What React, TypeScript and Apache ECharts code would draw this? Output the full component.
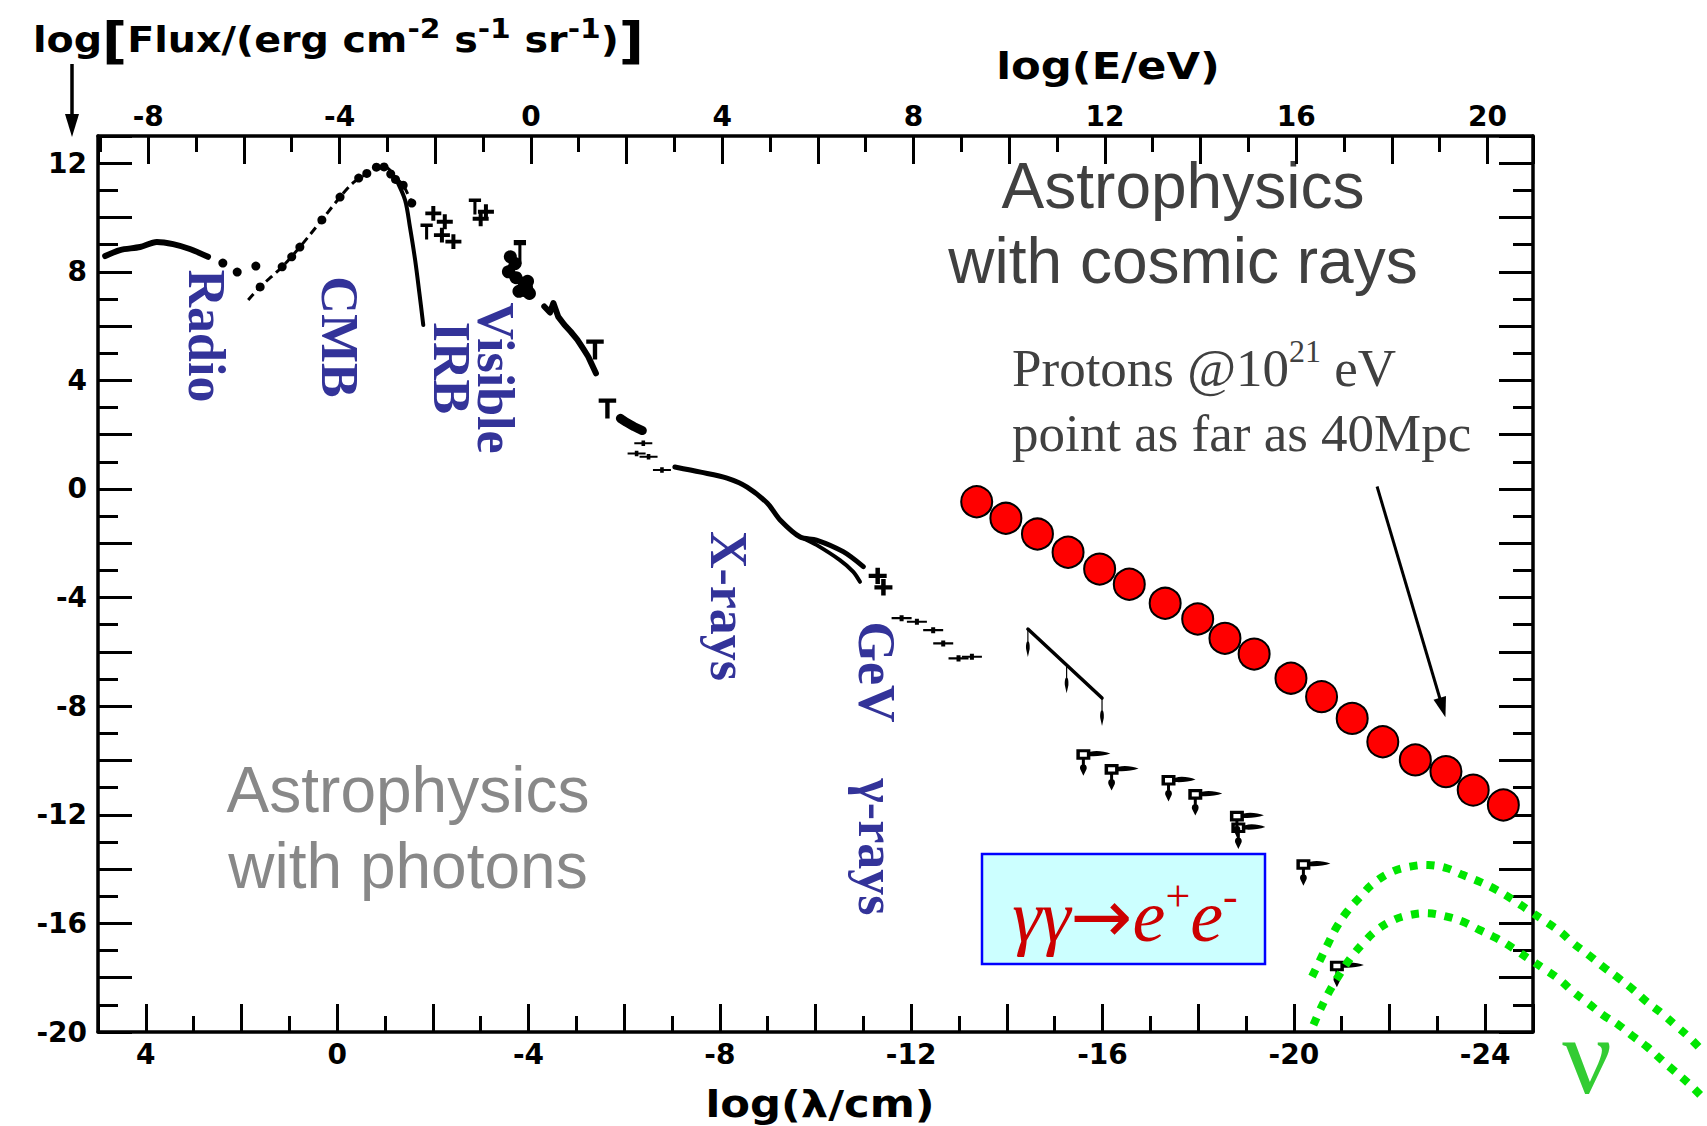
import React, { useEffect, useRef } from 'react';
import * as echarts from 'echarts';

// ---------- axis ranges ----------
const LAMBDA_MIN = -25; // log(lambda/cm), right edge
const LAMBDA_MAX = 5; // left edge
const ENERGY_MIN = -9.05; // log(E/eV), left edge
const ENERGY_MAX = 20.95;
const FLUX_MIN = -20;
const FLUX_MAX = 13;

// ---------- data: [log(lambda/cm), log flux] ----------
const radioCurve = [[4.85, 8.58], [4.54, 8.8], [4.12, 8.91], [3.77, 9.1], [3.43, 9.02], [3.08, 8.84], [2.7, 8.55]];
const radioDots = [[2.39, 8.32], [2.09, 7.99], [1.7, 8.21]];
const cmbRise = [[1.86, 6.96], [1.61, 7.44], [1.15, 8.18], [0.78, 8.91], [0.32, 9.91], [-0.06, 10.75], [-0.33, 11.27], [-0.62, 11.6], [-0.9, 11.82], [-1.04, 11.82], [-1.21, 11.49], [-1.38, 11.19], [-1.56, 10.53]];
const cmbDots = [[1.61, 7.44], [1.15, 8.18], [0.95, 8.55], [0.78, 8.91], [0.32, 9.91], [-0.06, 10.75], [-0.45, 11.45], [-0.62, 11.62], [-0.82, 11.85], [-0.98, 11.86], [-1.12, 11.6], [-1.22, 11.4], [-1.38, 11.19], [-1.56, 10.53]];
const cmbWien = [[-1.21, 11.49], [-1.42, 10.64], [-1.52, 9.66], [-1.63, 8.43], [-1.72, 7.2], [-1.8, 6.04]];
const irbCrosses = [[-2.01, 10.15], [-2.25, 9.84], [-2.19, 9.35], [-2.43, 9.11], [-3.0, 9.95], [-3.11, 10.21]];
const irbLimits = [[-1.87, 9.72], [-2.88, 10.64]];
const visibleBlob = [[-3.62, 8.55], [-3.72, 8.3], [-3.58, 8.0], [-3.74, 7.78], [-3.92, 7.55], [-3.8, 7.28], [-4.02, 7.2], [-3.98, 7.65]];
const visibleLimit = [[-3.82, 9.11]];
const uvStrip = [[-4.33, 6.72], [-4.45, 6.5], [-4.52, 6.85], [-4.62, 6.35], [-4.75, 6.05], [-4.88, 5.8], [-5.02, 5.5], [-5.15, 5.15], [-5.25, 4.87], [-5.32, 4.6], [-5.41, 4.26]];
const uvLimits = [[-5.39, 5.45], [-5.65, 3.28]];
const uvBlob = [[-5.92, 2.6], [-6.05, 2.45], [-6.2, 2.3], [-6.38, 2.15]];
const uvCrosses = [[-6.4, 1.68], [-6.26, 1.31], [-6.51, 1.19], [-6.79, 0.7]];
const xrayUpper = [[-7.06, 0.81], [-7.6, 0.62], [-8.15, 0.4], [-8.57, 0.07], [-8.99, -0.52], [-9.26, -1.14], [-9.68, -1.77], [-10.02, -1.88], [-10.58, -2.31], [-11.0, -2.86]];
const xrayLower = [[-9.75, -1.82], [-10.02, -2.06], [-10.51, -2.62], [-10.79, -3.05], [-10.93, -3.42]];
const gevBlob = [[-11.3, -3.2], [-11.42, -3.62]];
const gevCrosses = [[-11.8, -4.76], [-12.12, -4.89], [-12.46, -5.2], [-12.67, -5.69], [-12.99, -6.24], [-13.27, -6.18]];
const tevLine = [[-14.44, -5.16], [-15.99, -7.7]];
const tevArrows = [[-14.44, -5.16], [-15.25, -6.49], [-15.99, -7.7]];
const limitSquares = [[-15.6, -9.74], [-16.19, -10.29], [-17.38, -10.69], [-17.94, -11.21], [-18.81, -12.01], [-18.84, -12.44], [-20.2, -13.79], [-20.9, -17.53]];
const protons = [[-13.37, -0.47], [-13.98, -1.08], [-14.64, -1.66], [-15.28, -2.33], [-15.94, -2.95], [-16.56, -3.51], [-17.31, -4.21], [-17.99, -4.79], [-18.56, -5.5], [-19.17, -6.08], [-19.94, -6.97], [-20.58, -7.65], [-21.22, -8.45], [-21.86, -9.31], [-22.54, -9.98], [-23.18, -10.41], [-23.75, -11.09], [-24.38, -11.64]];
const protonArrow = [[-21.74, 0.09], [-23.11, -8.05]];
const neutrinoOuter = [[-20.38, -17.96], [-20.55, -17.35], [-20.72, -16.73], [-20.9, -16.12], [-21.11, -15.57], [-21.39, -15.02], [-21.66, -14.53], [-22.05, -14.1], [-22.43, -13.91], [-22.81, -13.85], [-23.2, -13.97], [-23.54, -14.22], [-23.89, -14.47], [-24.24, -14.77], [-24.59, -15.14], [-24.9, -15.51], [-25.22, -15.88], [-25.57, -16.31], [-25.84, -16.73], [-26.16, -17.16], [-26.47, -17.6], [-26.79, -18.02], [-27.1, -18.45], [-27.38, -18.89], [-27.69, -19.31], [-27.97, -19.74], [-28.25, -20.17], [-28.53, -20.67]];
const neutrinoInner = [[-20.41, -19.74], [-20.58, -19.07], [-20.76, -18.45], [-20.97, -17.84], [-21.18, -17.29], [-21.45, -16.73], [-21.73, -16.25], [-22.08, -15.88], [-22.43, -15.69], [-22.81, -15.63], [-23.2, -15.75], [-23.54, -15.94], [-23.89, -16.25], [-24.24, -16.55], [-24.59, -16.92], [-24.9, -17.29], [-25.22, -17.66], [-25.57, -18.09], [-25.84, -18.52], [-26.16, -18.95], [-26.47, -19.38], [-26.79, -19.74], [-27.1, -20.17], [-27.38, -20.54], [-27.69, -21.03], [-27.97, -21.46], [-28.25, -21.89], [-28.53, -22.38]];
const neutrinoCurves = [neutrinoOuter, neutrinoInner];

// ---------- text ----------
const categoryLabels = ['Radio', 'CMB', 'IRB', 'Visible', 'X-rays', 'GeV', 'γ-rays'];

// ---------- symbols ----------
const CROSS = 'path://M0,5 H14 V8.5 H0 Z M5.25,0 H8.75 V13.5 H5.25 Z';
const HBAR = 'path://M0,3.5 H20 V7.5 H0 Z M8,0 H12 V11 H8 Z';
const TLIMIT = 'path://M0,0 H14 V3.5 H0 Z M5.25,0 H8.75 V16 H5.25 Z';
const DOWN = 'path://M4,0 H7 V16 H4 Z M5.5,12 C9,12 11,16 10,20 L5.5,28 L1,20 C0,16 2,12 5.5,12 Z';
const SQUARE_LIMIT = 'path://M0,0 H14 V12 H0 Z M3.5,3.5 V8.5 H10.5 V3.5 Z M5.5,12 H8.5 V19 H5.5 Z M7,17 C10,17 11,20.5 10,23 L7,30 L4,23 C3,20.5 4,17 7,17 Z M14,3 C20,1 28,2.5 34,5 C28,7.5 20,8.5 14,8 Z';

const BLACK = '#000';
const TICK_FONT = { fontFamily: 'DejaVu Sans', fontWeight: 'bold' as const, fontSize: 28, color: BLACK };
const lab4 = (v: number) => (Math.abs(v % 4) < 1e-9 ? String(Math.round(v)) : '');

function lineSeries(data: number[][], width: number, extra: any = {}) {
  return {
    type: 'line', data, symbol: 'none', smooth: 0.3, silent: true, z: 3,
    lineStyle: { color: BLACK, width, cap: 'round', join: 'round', ...extra },
  };
}
function scatterSeries(data: number[][], symbol: string, size: any, offset: number[] = [0, 0]) {
  return {
    type: 'scatter', data, symbol, symbolSize: size, symbolOffset: offset, symbolKeepAspect: true,
    silent: true, z: 4, itemStyle: { color: BLACK, opacity: 1 },
  };
}

function xAxisBase(extra: any) {
  return {
    type: 'value', splitNumber: 15,
    axisLine: { show: true, onZero: false, lineStyle: { color: BLACK, width: 3.5 } },
    axisTick: { show: true, inside: true, length: 28, lineStyle: { color: BLACK, width: 3 } },
    minorTick: { show: true, splitNumber: 2, length: 16, lineStyle: { color: BLACK, width: 3 } },
    splitLine: { show: false }, minorSplitLine: { show: false },
    ...extra,
  };
}
function yAxisBase(extra: any) {
  return {
    type: 'value', min: FLUX_MIN, max: FLUX_MAX, interval: 2,
    axisLine: { show: true, onZero: false, lineStyle: { color: BLACK, width: 3.5 } },
    axisTick: { show: true, inside: true, length: 34, lineStyle: { color: BLACK, width: 3 } },
    minorTick: { show: true, splitNumber: 2, length: 20, lineStyle: { color: BLACK, width: 3 } },
    splitLine: { show: false }, minorSplitLine: { show: false },
    ...extra,
  };
}

function catLabel(text: string, x: number, y: number) {
  return {
    type: 'text', x, y, rotation: -Math.PI / 2,
    style: {
      text, fill: '#333399', fontFamily: 'Liberation Serif', fontWeight: 'bold', fontSize: 52,
      align: 'center', verticalAlign: 'middle', textAlign: 'center', textVerticalAlign: 'middle',
    },
  };
}

function buildOption() {
  const graphic: any[] = [
    {
      type: 'text', x: 33, y: 40, scaleX: 1.1,
      style: {
        text: '{t|log}{b|[}{t|Flux/(erg cm}{s|-2}{t| s}{s|-1}{t| sr}{s|-1}{t|)}{b|]}',
        align: 'left', verticalAlign: 'middle', textAlign: 'left', textVerticalAlign: 'middle', fill: BLACK,
        rich: {
          t: { fontFamily: 'DejaVu Sans', fontWeight: 'bold', fontSize: 36, fill: BLACK, lineHeight: 50 },
          b: { fontFamily: 'DejaVu Sans', fontWeight: 'bold', fontSize: 50, fill: BLACK, lineHeight: 50 },
          s: { fontFamily: 'DejaVu Sans', fontWeight: 'bold', fontSize: 27, fill: BLACK, lineHeight: 26, verticalAlign: 'top' },
        },
      },
    },
    { type: 'line', shape: { x1: 72, y1: 64, x2: 72, y2: 120 }, style: { stroke: BLACK, lineWidth: 3.5 } },
    { type: 'polygon', shape: { points: [[65, 114], [79, 114], [72, 137]] }, style: { fill: BLACK } },
    {
      type: 'text', x: 1108, y: 66, scaleX: 1.14,
      style: { text: 'log(E/eV)', fill: BLACK, fontFamily: 'DejaVu Sans', fontWeight: 'bold', fontSize: 38, align: 'center', verticalAlign: 'middle', textAlign: 'center', textVerticalAlign: 'middle' },
    },
    {
      type: 'text', x: 820, y: 1104, scaleX: 1.14,
      style: { text: 'log(λ/cm)', fill: BLACK, fontFamily: 'DejaVu Sans', fontWeight: 'bold', fontSize: 38, align: 'center', verticalAlign: 'middle', textAlign: 'center', textVerticalAlign: 'middle' },
    },
    catLabel(categoryLabels[0], 206, 336),
    catLabel(categoryLabels[1], 339, 337),
    catLabel(categoryLabels[2], 451, 368),
    catLabel(categoryLabels[3], 495, 378),
    catLabel(categoryLabels[4], 728, 606),
    catLabel(categoryLabels[5], 876, 672),
    catLabel(categoryLabels[6], 876, 847),
    {
      type: 'text', x: 1183, y: 148,
      style: { text: 'Astrophysics\nwith cosmic rays', fill: '#404040', fontFamily: 'Liberation Sans', fontSize: 64, lineHeight: 75, align: 'center', verticalAlign: 'top', textAlign: 'center', textVerticalAlign: 'top' },
    },
    {
      type: 'text', x: 408, y: 752,
      style: { text: 'Astrophysics\nwith photons', fill: '#888888', fontFamily: 'Liberation Sans', fontSize: 64, lineHeight: 76, align: 'center', verticalAlign: 'top', textAlign: 'center', textVerticalAlign: 'top' },
    },
    {
      type: 'text', x: 1012, y: 335,
      style: {
        text: '{p|Protons @10}{q|21}{p| eV}\n{p|point as far as 40Mpc}',
        align: 'left', verticalAlign: 'top', textAlign: 'left', textVerticalAlign: 'top', fill: '#404040',
        rich: {
          p: { fontFamily: 'Liberation Serif', fontSize: 53, lineHeight: 65, fill: '#404040' },
          q: { fontFamily: 'Liberation Serif', fontSize: 32, lineHeight: 50, fill: '#404040', verticalAlign: 'top' },
        },
      },
    },
    { type: 'rect', z: 5, shape: { x: 982, y: 854, width: 283, height: 110 }, style: { fill: '#ccffff', stroke: '#0000ff', lineWidth: 2.5 } },
    {
      type: 'text', x: 1125, y: 916, z: 6,
      style: {
        text: '{m|γγ}{a|→}{m|e}{s|+}{m|e}{s|-}',
        align: 'center', verticalAlign: 'middle', textAlign: 'center', textVerticalAlign: 'middle', fill: '#cc0000',
        rich: {
          m: { fontFamily: 'Liberation Serif', fontStyle: 'italic', fontSize: 74, lineHeight: 84, fill: '#cc0000' },
          a: { fontFamily: 'DejaVu Sans', fontWeight: 'normal', fontSize: 74, lineHeight: 84, fill: '#cc0000' },
          s: { fontFamily: 'Liberation Serif', fontSize: 44, lineHeight: 54, fill: '#cc0000', verticalAlign: 'top' },
        },
      },
    },
    {
      type: 'text', x: 1587, y: 1056,
      style: { text: 'ν', fill: '#33cc33', fontFamily: 'Liberation Serif', fontSize: 110, align: 'center', verticalAlign: 'middle', textAlign: 'center', textVerticalAlign: 'middle' },
    },
  ];

  const series: any[] = [
    lineSeries(radioCurve, 6),
    scatterSeries(radioDots, 'circle', 9),
    lineSeries(cmbRise, 3, { type: [8, 5], cap: 'butt' }),
    scatterSeries(cmbDots, 'circle', 9),
    lineSeries(cmbWien, 4),
    scatterSeries(irbCrosses, CROSS, [16, 15.5]),
    scatterSeries(irbLimits, TLIMIT, [14, 16], [0, 6.5]),
    { ...lineSeries(visibleBlob, 9), smooth: false },
    scatterSeries(visibleBlob, 'circle', 13),
    scatterSeries(visibleLimit, TLIMIT, [14, 24], [0, 10.5]),
    { ...lineSeries(uvStrip, 6), smooth: false },
    scatterSeries(uvLimits, TLIMIT, [20, 20], [0, 8.5]),
    { ...lineSeries(uvBlob, 9), smooth: false },
    scatterSeries(uvCrosses, HBAR, [18, 10]),
    lineSeries(xrayUpper, 5),
    lineSeries(xrayLower, 4),
    scatterSeries(gevBlob, CROSS, [18, 17]),
    scatterSeries(gevCrosses, HBAR, [20, 11]),
    { ...lineSeries(tevLine, 3.5), smooth: false },
    scatterSeries(tevArrows, DOWN, [11, 28], [0, 14]),
    scatterSeries(limitSquares, SQUARE_LIMIT, [34, 30], [10, 9]),
    {
      type: 'scatter', data: protons, symbol: 'circle', symbolSize: 31, silent: true, z: 5,
      itemStyle: { color: '#ff0000', borderColor: BLACK, borderWidth: 2, opacity: 1 },
      markLine: {
        silent: true, symbol: ['none', 'triangle'], symbolSize: [13, 20], animation: false,
        label: { show: false }, lineStyle: { color: BLACK, width: 3, type: 'solid' },
        emphasis: { disabled: true },
        data: [[{ coord: protonArrow[0] }, { coord: protonArrow[1] }]],
      },
    },
    {
      type: 'custom', clip: false, silent: true, z: 6,
      data: neutrinoCurves.map((c, i) => [c[0][0], c[0][1], i]),
      renderItem: (params: any, api: any) => {
        const curve = neutrinoCurves[params.dataIndex];
        return {
          type: 'polyline',
          shape: { points: curve.map((p) => api.coord(p)), smooth: 0.4 },
          style: { stroke: '#00e600', lineWidth: 8, lineDash: [8, 9], fill: 'none' },
        };
      },
    },
  ];

  return {
    animation: false,
    backgroundColor: '#ffffff',
    textStyle: { fontFamily: 'DejaVu Sans' },
    grid: { left: 98, top: 136, width: 1435, height: 896, containLabel: false, outerBoundsMode: 'none' },
    xAxis: [
      xAxisBase({ position: 'bottom', min: LAMBDA_MIN, max: LAMBDA_MAX, inverse: true, axisLabel: { ...TICK_FONT, margin: 8, formatter: lab4 } }),
      xAxisBase({ position: 'top', min: ENERGY_MIN, max: ENERGY_MAX, axisLabel: { ...TICK_FONT, margin: 6, formatter: lab4 } }),
    ],
    yAxis: [
      yAxisBase({ position: 'left', axisLabel: { ...TICK_FONT, margin: 11, formatter: lab4 } }),
      yAxisBase({ position: 'right', axisLabel: { show: false } }),
    ],
    graphic,
    series: series.map((s) => ({ xAxisIndex: 0, yAxisIndex: 0, ...s })),
  };
}

export default function App() {
  const ref = useRef<HTMLDivElement>(null);
  useEffect(() => {
    const el = ref.current;
    if (!el) return;
    const chart = echarts.init(el, null, { renderer: 'svg' });
    chart.setOption(buildOption() as any);
    return () => chart.dispose();
  }, []);
  return (
    <div
      ref={ref}
      style={{ position: 'fixed', left: 0, top: 0, width: 1707, height: 1126, background: '#fff' }}
    />
  );
}
